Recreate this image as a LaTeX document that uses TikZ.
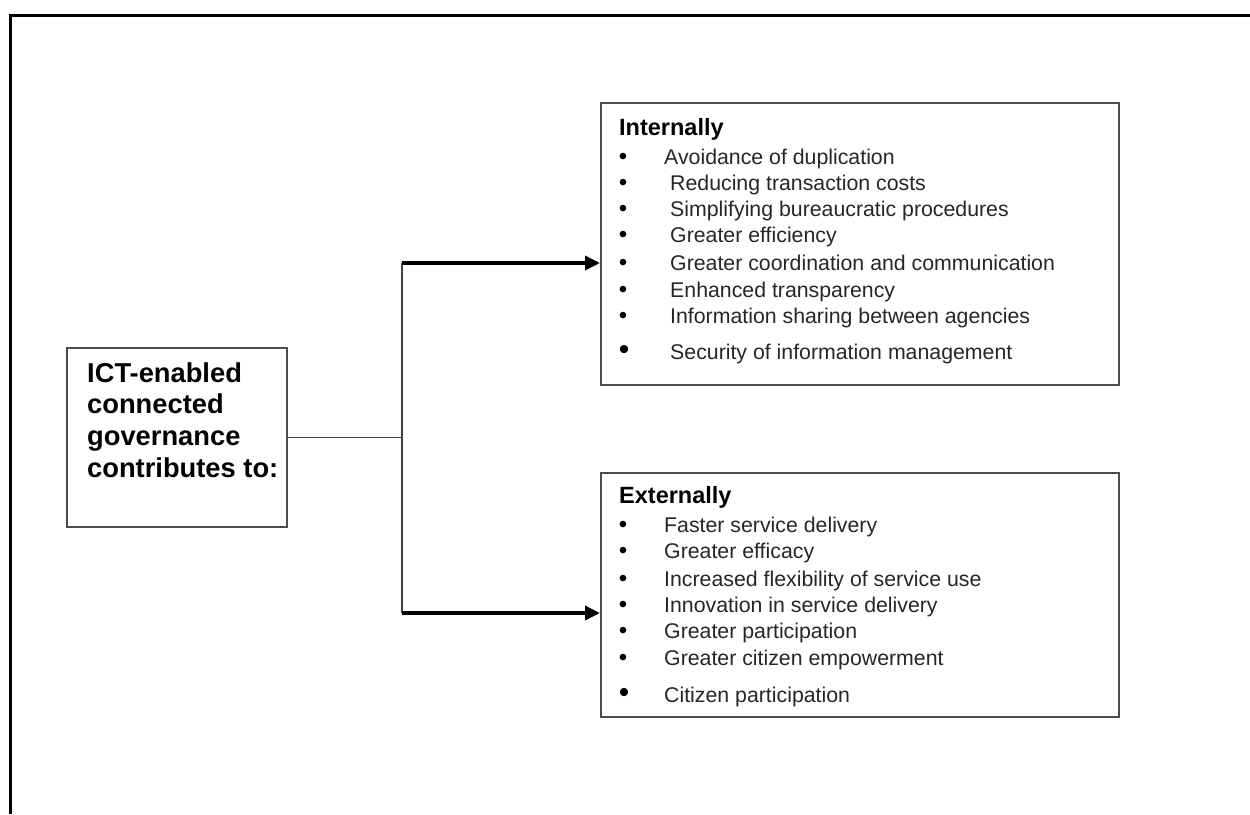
\documentclass[tikz,border=0pt]{standalone}
\usepackage{fontspec}
\setmainfont{Liberation Sans}
\usetikzlibrary{arrows.meta}
\begin{document}
\begin{tikzpicture}[x=1pt,y=-1pt,
  box/.style={draw=black!70, line width=2pt, inner sep=0pt, anchor=north west},
  item/.style={anchor=base west, inner sep=0pt, font=\fontsize{21.3}{25}\selectfont, text=black!85},
  bul/.style={anchor=base, inner sep=0pt, font=\fontsize{24}{28}\selectfont},
  bigbul/.style={anchor=base, inner sep=0pt, font=\fontsize{30}{32}\selectfont},
  head/.style={anchor=base west, inner sep=0pt, font=\bfseries\fontsize{23.5}{27}\selectfont},
  mainline/.style={anchor=base west, inner sep=0pt, font=\bfseries\fontsize{27.3}{32}\selectfont},
  thinline/.style={draw=black!75, line width=1.8pt},
  arr/.style={draw=black, line width=3.5pt, -{Triangle[length=15pt,width=14pt]}},
  frameline/.style={draw=black, line width=3pt}]
\useasboundingbox (0,0) rectangle (1250,814);
% outer frame
\coordinate (f1) at (10,814);
\coordinate (f2) at (10,15);
\coordinate (f3) at (1250,15);
\draw[frameline] (f1) -- (f2) -- (f3);

% boxes
\node[box, minimum width=220pt, minimum height=179pt] (lb) at (66,347) {};
\node[box, minimum width=518pt, minimum height=282pt] (ib) at (600,102) {};
\node[box, minimum width=518pt, minimum height=244pt] (eb) at (600,472) {};

% left box text
\node[mainline] (m1) at (87,382) {ICT-enabled};
\node[mainline] (m2) at (87,413) {connected};
\node[mainline] (m3) at (87,445) {governance};
\node[mainline] (m4) at (87,477) {contributes to:};

% internal
\node[head] (ih) at (619,135) {Internally};
\node[bul] (ib1) at (623,164) {•};
\node[item] (it1) at (664,164) {Avoidance of duplication};
\node[bul] (ib2) at (623,190) {•};
\node[item] (it2) at (670,190) {Reducing transaction costs};
\node[bul] (ib3) at (623,216) {•};
\node[item] (it3) at (670,216) {Simplifying bureaucratic procedures};
\node[bul] (ib4) at (623,242) {•};
\node[item] (it4) at (670,242) {Greater efficiency};
\node[bul] (ib5) at (623,270) {•};
\node[item] (it5) at (670,270) {Greater coordination and communication};
\node[bul] (ib6) at (623,297) {•};
\node[item] (it6) at (670,297) {Enhanced transparency};
\node[bul] (ib7) at (623,323) {•};
\node[item] (it7) at (670,323) {Information sharing between agencies};
\node[bigbul] (ib8) at (624,359) {•};
\node[item] (it8) at (670,359) {Security of information management};

% external
\node[head] (eh) at (619,503) {Externally};
\node[bul] (eb1) at (623,532) {•};
\node[item] (et1) at (664,532) {Faster service delivery};
\node[bul] (eb2) at (623,558) {•};
\node[item] (et2) at (664,558) {Greater efficacy};
\node[bul] (eb3) at (623,586) {•};
\node[item] (et3) at (664,586) {Increased flexibility of service use};
\node[bul] (eb4) at (623,612) {•};
\node[item] (et4) at (664,612) {Innovation in service delivery};
\node[bul] (eb5) at (623,638) {•};
\node[item] (et5) at (664,638) {Greater participation};
\node[bul] (eb6) at (623,665) {•};
\node[item] (et6) at (664,665) {Greater citizen empowerment};
\node[bigbul] (eb7) at (624,702) {•};
\node[item] (et7) at (664,702) {Citizen participation};

% connectors
\coordinate (jt) at (402,263);
\coordinate (jb) at (402,613);
\draw[thinline] (lb.east) -- (lb.east -| jt);
\draw[thinline] (jt) -- (jb);
\draw[arr] (jt) -- (jt -| ib.west);
\draw[arr] (jb) -- (jb -| eb.west);
\end{tikzpicture}
\end{document}
